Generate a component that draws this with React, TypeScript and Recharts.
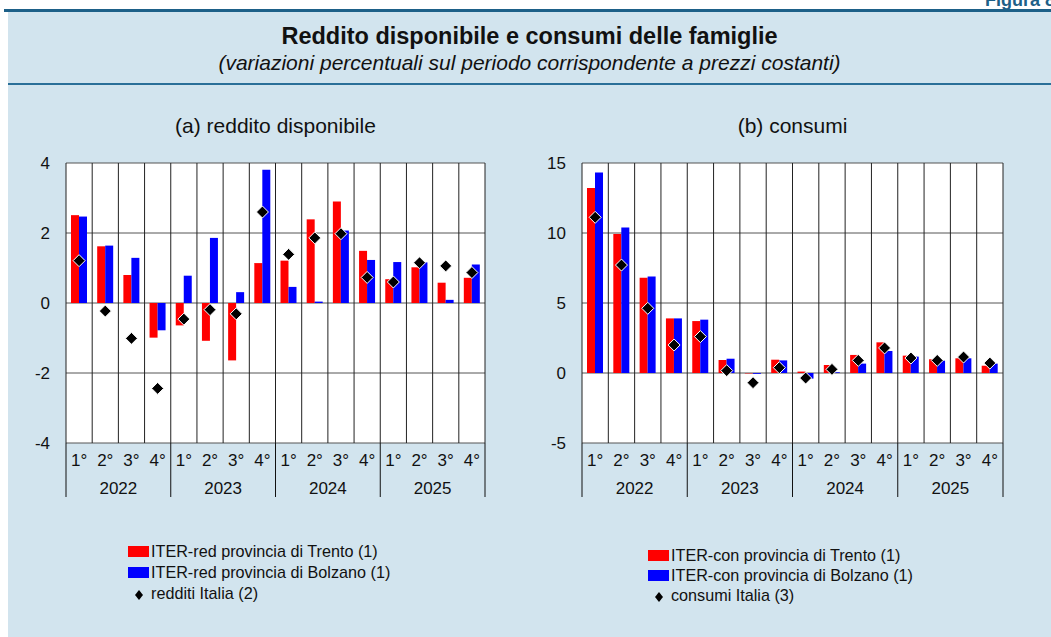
import React from 'react';
import { ComposedChart, Bar, Line, XAxis, YAxis, CartesianGrid } from 'recharts';

const YEARS = ['2022', '2023', '2024', '2025'];
const QUARTERS = ['1°', '2°', '3°', '4°'];

// (a) reddito disponibile
const redTrento = [2.51, 1.62, 0.8, -0.99, -0.64, -1.08, -1.64, 1.14, 1.21, 2.39, 2.9, 1.49, 0.68, 1.02, 0.58, 0.72];
const redBolzano = [2.47, 1.64, 1.29, -0.78, 0.78, 1.86, 0.31, 3.81, 0.46, 0.04, 2.07, 1.23, 1.17, 1.16, 0.09, 1.1];
const redItalia = [1.21, -0.23, -1.01, -2.44, -0.46, -0.19, -0.31, 2.6, 1.39, 1.86, 1.98, 0.73, 0.6, 1.15, 1.06, 0.87];

// (b) consumi
const conTrento = [13.21, 9.93, 6.81, 3.9, 3.71, 0.93, -0.03, 0.95, 0.1, 0.57, 1.29, 2.19, 1.24, 0.98, 1.05, 0.52];
const conBolzano = [14.33, 10.4, 6.9, 3.9, 3.81, 1.02, -0.06, 0.9, -0.4, 0.05, 0.67, 1.57, 1.17, 0.88, 1.05, 0.67];
const conItalia = [11.12, 7.71, 4.62, 2.0, 2.6, 0.17, -0.69, 0.38, -0.36, 0.26, 0.9, 1.79, 1.07, 0.9, 1.14, 0.71];

const ticksA = [-4, -2, 0, 2, 4];
const ticksB = [-5, 0, 5, 10, 15];

const FONT = '"Liberation Sans", Arial, Helvetica, sans-serif';
const RED = '#ff0000';
const BLUE = '#0000ff';
const BG = '#d2e4ee';
const DARK = '#1d6088';

const keys: string[] = [];
YEARS.forEach((y) => QUARTERS.forEach((q) => keys.push(`${y}|${q}`)));

const buildData = (a: number[], b: number[], c: number[]) =>
  keys.map((k, i) => ({ key: k, trento: a[i], bolzano: b[i], italia: c[i] }));

const dataA = buildData(redTrento, redBolzano, redItalia);
const dataB = buildData(conTrento, conBolzano, conItalia);

const Diamond = (props: any) => {
  const { cx, cy, index } = props;
  if (cx == null || cy == null) return null;
  const r = 6;
  return (
    <path
      key={`dm-${index}`}
      d={`M${cx},${cy - r}L${cx + r},${cy}L${cx},${cy + r}L${cx - r},${cy}Z`}
      fill="#000"
      stroke="#fff"
      strokeWidth={1}
    />
  );
};

const makeXTickFull = (bw: number, count: number) => (props: any) => {
  const { x, y, payload, index } = props;
  const [year, q] = String(payload.value).split('|');
  const qi = QUARTERS.indexOf(q);
  return (
    <g key={`xt-${index}`}>
      <text x={x} y={y + 23} textAnchor="middle" fontSize={17} fill="#111" fontFamily={FONT}>
        {q}
      </text>
      {qi === 0 && (
        <>
          <line x1={x - bw / 2} x2={x - bw / 2} y1={y} y2={y + 54} stroke="#111" strokeWidth={1} />
          <text x={x + 1.5 * bw} y={y + 51} textAnchor="middle" fontSize={17} fill="#111" fontFamily={FONT}>
            {year}
          </text>
        </>
      )}
      {index === count - 1 && (
        <line x1={x + bw / 2} x2={x + bw / 2} y1={y} y2={y + 54} stroke="#111" strokeWidth={1} />
      )}
    </g>
  );
};

const makeRightTick = (off: number) => (props: any) => {
  const { x, y, payload } = props;
  return (
    <text x={x + off} y={y + 6} textAnchor="end" fontSize={17} fill="#111" fontFamily={FONT}>
      {payload.value}
    </text>
  );
};

const vGen = (n: number) => ({ offset }: any) =>
  Array.from({ length: n + 1 }, (_, i) => offset.left + (i * offset.width) / n);

type PanelProps = {
  data: any[];
  ticks: number[];
  width: number;
  height: number;
  leftW: number;
  rightW: number;
  rightOff: number;
};

const Panel = ({ data, ticks, width, height, leftW, rightW, rightOff }: PanelProps) => {
  const plotW = width - leftW - rightW;
  const bw = plotW / data.length;
  const domain: [number, number] = [ticks[0], ticks[ticks.length - 1]];
  return (
    <ComposedChart
      width={width}
      height={height}
      data={data}
      margin={{ top: 163, right: 0, bottom: 0, left: 0 }}
      barGap={0}
    >
      <CartesianGrid yAxisId="l" vertical={false} stroke="#555" fill="#ffffff" />
      <CartesianGrid
        yAxisId="l"
        horizontal={false}
        stroke="#222"
        verticalCoordinatesGenerator={vGen(data.length)}
      />
      <XAxis
        dataKey="key"
        interval={0}
        tickLine={false}
        axisLine={false}
        tickSize={0}
        tickMargin={0}
        height={height - 443}
        tick={makeXTickFull(bw, data.length)}
      />
      <YAxis
        yAxisId="l"
        orientation="left"
        width={leftW}
        domain={domain}
        ticks={ticks}
        interval={0}
        tickLine={false}
        axisLine={false}
        tickSize={0}
        tickMargin={16}
        tick={{ fontSize: 17, fill: '#111', fontFamily: FONT }}
      />
      <YAxis
        yAxisId="r"
        orientation="right"
        width={rightW}
        domain={domain}
        ticks={ticks}
        interval={0}
        tickLine={false}
        axisLine={false}
        tickSize={0}
        tickMargin={0}
        tick={makeRightTick(rightOff)}
      />
      <Bar yAxisId="l" dataKey="trento" fill={RED} barSize={8} isAnimationActive={false} />
      <Bar yAxisId="l" dataKey="bolzano" fill={BLUE} barSize={8} isAnimationActive={false} />
      <Line
        yAxisId="l"
        dataKey="italia"
        stroke="none"
        dot={Diamond}
        activeDot={false}
        isAnimationActive={false}
        legendType="none"
      />
    </ComposedChart>
  );
};

const LegendBlock = ({ left, top, labels, rowH }: { left: number; top: number; labels: string[]; rowH: number }) => {
  const swatch = (color: string) => (
    <span style={{ display: 'inline-block', width: 21, height: 11, background: color, marginRight: 2 }} />
  );
  return (
    <div style={{ position: 'absolute', left, top, fontFamily: FONT, fontSize: 16.2, color: '#111', lineHeight: `${rowH}px` }}>
      <div style={{ display: 'flex', alignItems: 'center', height: rowH }}>
        {swatch(RED)}
        <span>{labels[0]}</span>
      </div>
      <div style={{ display: 'flex', alignItems: 'center', height: rowH }}>
        {swatch(BLUE)}
        <span>{labels[1]}</span>
      </div>
      <div style={{ display: 'flex', alignItems: 'center', height: rowH }}>
        <span style={{ display: 'inline-block', width: 21, marginRight: 2, textAlign: 'center' }}>
          <svg width={10} height={12} style={{ verticalAlign: 'middle' }}>
            <path d="M5,1L9,6L5,11L1,6Z" fill="#000" />
          </svg>
        </span>
        <span>{labels[2]}</span>
      </div>
    </div>
  );
};

export default function App() {
  return (
    <div
      style={{
        position: 'absolute',
        left: 0,
        top: 0,
        width: 1051,
        height: 637,
        overflow: 'hidden',
        background: '#fff',
        fontFamily: FONT,
      }}
    >
      <div
        style={{
          position: 'absolute',
          left: 985,
          top: -10,
          fontSize: 18,
          fontWeight: 'bold',
          color: DARK,
          whiteSpace: 'nowrap',
          lineHeight: '20px',
        }}
      >
        Figura 8
      </div>
      <div style={{ position: 'absolute', left: 8, top: 12, right: 0, bottom: 0, background: BG }} />
      <div style={{ position: 'absolute', left: 4, top: 9, width: 1047, height: 3, background: DARK }} />
      <div style={{ position: 'absolute', left: 8, top: 83, width: 1043, height: 2, background: '#2a6f98' }} />
      <div
        style={{
          position: 'absolute',
          left: 8,
          width: 1043,
          top: 22,
          textAlign: 'center',
          fontSize: 23.5,
          fontWeight: 'bold',
          color: '#111',
          lineHeight: '28px',
        }}
      >
        Reddito disponibile e consumi delle famiglie
      </div>
      <div
        style={{
          position: 'absolute',
          left: 8,
          width: 1043,
          top: 50,
          textAlign: 'center',
          fontSize: 21,
          fontStyle: 'italic',
          color: '#111',
          lineHeight: '26px',
        }}
      >
        (variazioni percentuali sul periodo corrispondente a prezzi costanti)
      </div>
      <div style={{ position: 'absolute', left: 66, width: 419, top: 113, textAlign: 'center', fontSize: 21, color: '#111', lineHeight: '26px' }}>
        (a) reddito disponibile
      </div>
      <div style={{ position: 'absolute', left: 582, width: 421, top: 113, textAlign: 'center', fontSize: 21, color: '#111', lineHeight: '26px' }}>
        (b) consumi
      </div>
      <div style={{ position: 'absolute', left: 0, top: 0 }}>
        <Panel data={dataA} ticks={ticksA} width={530} height={520} leftW={66} rightW={45} rightOff={33} />
      </div>
      <div style={{ position: 'absolute', left: 530, top: 0 }}>
        <Panel data={dataB} ticks={ticksB} width={521} height={520} leftW={52} rightW={48} rightOff={35} />
      </div>
      <LegendBlock
        left={128}
        top={541}
        rowH={21}
        labels={['ITER-red provincia di Trento (1)', 'ITER-red provincia di Bolzano (1)', 'redditi Italia (2)']}
      />
      <LegendBlock
        left={648}
        top={545}
        rowH={20}
        labels={['ITER-con provincia di Trento (1)', 'ITER-con provincia di Bolzano (1)', 'consumi Italia (3)']}
      />
    </div>
  );
}
